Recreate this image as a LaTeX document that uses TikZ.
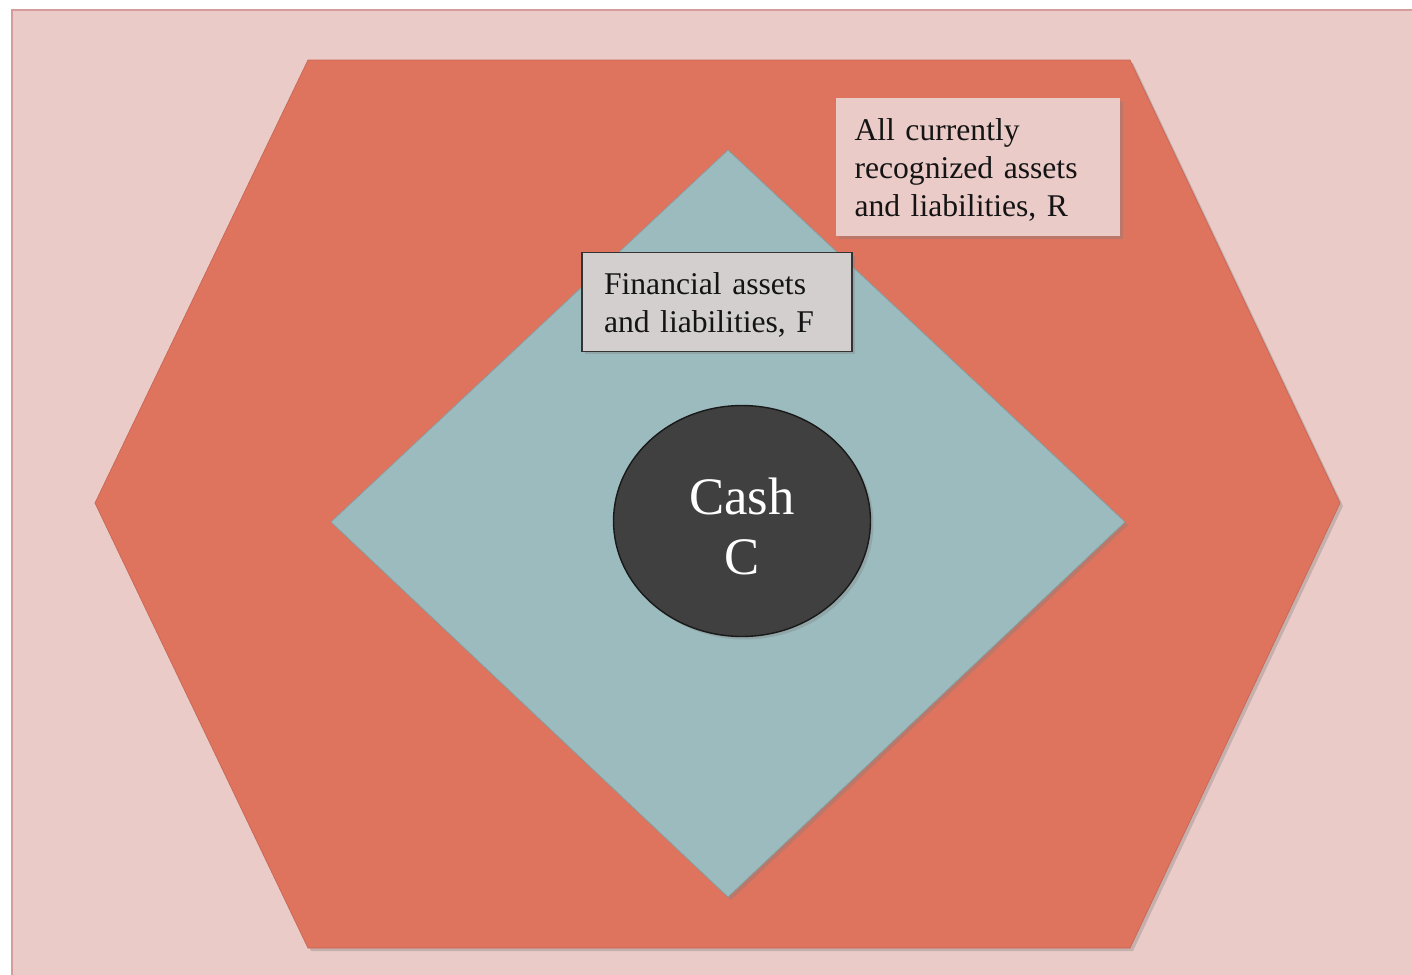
\documentclass[tikz,border=0pt]{standalone}
\usepackage{fontspec}
\setmainfont{Liberation Serif}
\usetikzlibrary{shapes.geometric,shadows}
\definecolor{bgpink}{HTML}{EBCBC8}
\definecolor{bgedge}{HTML}{D69C9C}
\definecolor{hexred}{HTML}{DE735E}
\definecolor{diateal}{HTML}{9BBBBE}
\definecolor{cashgray}{HTML}{404040}
\definecolor{labelgray}{HTML}{D3CFCF}
\tikzset{
	soft shadow/.style={drop shadow={opacity=0.35,shadow xshift=0.6mm,shadow yshift=-0.6mm}},
	labelbox/.style={rectangle, align=left, text=black!92,
			font=\fontsize{18}{21.5}\selectfont, soft shadow}
}

\begin{document}
\begin{tikzpicture}[x=0.02cm,y=-0.02cm]
	\useasboundingbox (0,0) rectangle (1412,974);
	% Background panel
	\fill[white] (0,0) rectangle (1412,974);
	\filldraw[fill=bgpink, draw=bgedge, line width=1.2pt] (12,10) rectangle (1430,990);

	% Outer hexagon: recognized assets and liabilities
	\coordinate (h1) at (308,60);
	\coordinate (h2) at (1130,60);
	\coordinate (h3) at (1340,503);
	\coordinate (h4) at (1130,948);
	\coordinate (h5) at (308,948);
	\coordinate (h6) at (95,503);
	\filldraw[fill=hexred, draw=hexred!90!black, soft shadow]
		(h1) -- (h2) -- (h3) -- (h4) -- (h5) -- (h6) -- cycle;

	% Inner diamond: financial assets and liabilities
	\coordinate (dtop) at (728,150);
	\coordinate (dright) at (1125,522);
	\coordinate (dbot) at (728,897);
	\coordinate (dleft) at (331,522);
	\filldraw[fill=diateal, draw=diateal!85!black, soft shadow]
		(dtop) -- (dright) -- (dbot) -- (dleft) -- cycle;

	% Cash in the middle
	\node[ellipse, fill=cashgray, draw=black!90, thick, soft shadow,
		minimum width=5.14cm, minimum height=4.62cm, align=center,
		text=white, font=\fontsize{30}{34}\selectfont] (cash) at (742,521) {\rule{0pt}{0.95cm}Cash\\C};

	% Labels
	\node[labelbox, fill=bgpink, minimum width=5.7cm, minimum height=2.76cm,
		inner xsep=0.38cm, text width=4.94cm] (rlabel) at (978,167)
		{\rule{0pt}{0.55cm}All currently\\recognized assets\\and liabilities, R};
	\node[labelbox, fill=labelgray, draw=black!80, thick, minimum width=5.4cm,
		minimum height=1.98cm, inner xsep=0.44cm, text width=4.52cm] (flabel) at (717,302)
		{\rule{0pt}{0.55cm}Financial assets\\and liabilities, F};
\end{tikzpicture}
\end{document}
